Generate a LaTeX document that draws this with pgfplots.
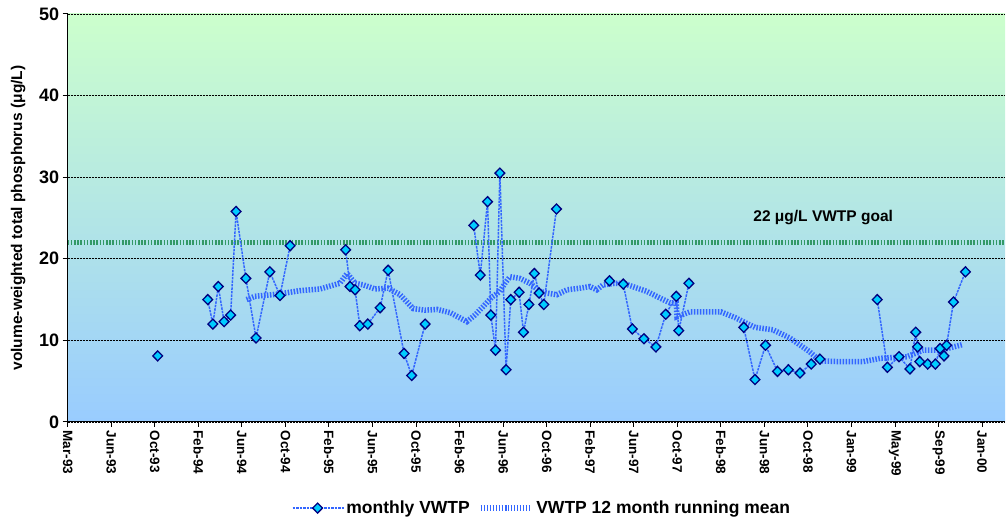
\documentclass[border=0pt]{standalone}
\usepackage{fontspec}
\setmainfont{Liberation Sans}
\usepackage{pgfplots}
\pgfplotsset{compat=1.18}

\definecolor{bgtop}{RGB}{204,255,204}
\definecolor{bgbot}{RGB}{153,204,255}
\definecolor{lineblue}{RGB}{51,102,255}
\definecolor{markfill}{RGB}{0,204,255}
\definecolor{markdraw}{RGB}{0,0,128}
\definecolor{goalgreen}{RGB}{51,153,102}

\begin{document}
\begin{tikzpicture}
\begin{axis}[
    name=ax,
    scale only axis,
    width=937.3pt, height=408pt,
    xmin=0, xmax=2583,
    ymin=0, ymax=50,
    axis lines=left,
    axis line style={-, black, line width=1pt},
    axis background/.style={shade, top color=bgtop, bottom color=bgbot},
    xtick={0,120,...,2520},
    xticklabels={Mar-93,Jun-93,Oct-93,Feb-94,Jun-94,Oct-94,Feb-95,Jun-95,Oct-95,Feb-96,Jun-96,Oct-96,Feb-97,Jun-97,Oct-97,Feb-98,Jun-98,Oct-98,Jan-99,May-99,Sep-99,Jan-00},
    ytick={0,10,...,50},
    /pgf/number format/assume math mode=true,
    tick align=outside,
    major tick length=5pt,
    tick style={black, line width=1pt},
    x tick label style={rotate=-90, anchor=west, font=\bfseries\fontsize{13.5}{14}\selectfont},
    y tick label style={font=\bfseries\fontsize{18}{19}\selectfont},
    ymajorgrids,
    grid style={black, line width=0.6pt, dash pattern=on 2pt off 1pt},
    ylabel={volume-weighted total phosphorus (μg/L)},
    ylabel style={at={(axis description cs:-0.053,0.5)}, anchor=center,
        font=\bfseries\fontsize{15.5}{16}\selectfont},
    unbounded coords=jump,
    legend style={at={(0.506,-0.211)}, anchor=center, draw=none, fill=none,
        legend columns=2, font=\bfseries\fontsize{17.5}{18}\selectfont,
        /tikz/every even column/.append style={column sep=6pt}},
    legend image code/.code={\draw[mark repeat=2,mark phase=2,#1]
        plot coordinates {(0pt,0pt) (25pt,0pt) (51pt,0pt)};},
]
% 22 ug/L goal
\addplot[forget plot, goalgreen, line width=5.5pt, dash pattern=on 1.6pt off 1.6pt]
    coordinates {(0,22) (2583,22)};

% VWTP 12 month running mean
\addplot[forget plot, lineblue, line width=5.5pt, dash pattern=on 1.5pt off 1.5pt] coordinates {
    (493,15.0) (516,15.4) (585,15.7) (640,16.1) (695,16.3) (750,17.0) (770,18.2)
    (792,17.0) (815,16.8) (847,16.3) (883,16.4) (916,15.6) (952,13.9) (985,13.7)
    (1018,13.8) (1054,13.4) (1100,12.3) (1122,13.1) (1144,14.1) (1169,15.3)
    (1191,16.0) (1205,17.0) (1219,17.8) (1246,17.6) (1274,17.0) (1302,16.0)
    (1321,15.8) (1348,15.6) (1376,16.2) (1412,16.4) (1439,16.6) (1458,16.2)
    (1475,16.8) (1508,17.0) (1531,17.0) (1563,16.5) (1596,16.0) (1632,15.2)
    (1660,14.6) (1677,14.6) (1679,12.9) (1715,13.5) (1800,13.5) (1839,12.8)
    (1866,12.2) (1894,11.6) (1943,11.3) (1990,10.3) (2045,8.6) (2073,7.5)
    (2123,7.4) (2192,7.4) (2239,7.8) (2313,8.0) (2357,8.8) (2404,8.8)
    (2432,9.1) (2467,9.5)
};

% monthly VWTP
\addplot[lineblue, line width=1.5pt, dash pattern=on 2.5pt off 1pt,
    mark=diamond*, mark size=5pt,
    mark options={solid, xscale=1.3, fill=markfill, draw=markdraw, line width=1.3pt}] coordinates {
    (248,8.1) (300,nan)
    (386,15.0) (400,12.0) (415,16.6) (431,12.3) (449,13.1) (464,25.8) (491,17.6)
    (519,10.3) (557,18.4) (585,15.5) (613,21.6) (700,nan)
    (766,21.1) (778,16.6) (792,16.2) (805,11.8) (827,12.0) (861,14.0) (883,18.6)
    (927,8.4) (948,5.7) (985,12.0) (1050,nan)
    (1119,24.1) (1137,18.0) (1157,27.0) (1166,13.1) (1179,8.8) (1191,30.5)
    (1208,6.4) (1221,15.0) (1244,15.9) (1256,11.0) (1271,14.4) (1286,18.2)
    (1299,15.8) (1312,14.4) (1347,26.1) (1420,nan)
    (1493,17.3) (1531,16.9) (1556,11.4) (1588,10.2) (1621,9.2) (1648,13.2)
    (1677,15.4) (1684,11.2) (1712,17.0) (1800,nan)
    (1863,11.6) (1894,5.2) (1923,9.4) (1956,6.2) (1986,6.4) (2018,6.0)
    (2049,7.1) (2073,7.7) (2150,nan)
    (2231,15.0) (2259,6.7) (2291,8.0) (2321,6.5) (2337,11.0) (2342,9.2)
    (2348,7.4) (2370,7.1) (2391,7.1) (2404,9.0) (2415,8.1) (2422,9.4)
    (2441,14.7) (2474,18.4)
};
\addlegendentry{monthly VWTP}
\addlegendimage{lineblue, line width=5.5pt, dash pattern=on 1.5pt off 1.5pt}
\addlegendentry{VWTP 12 month running mean}

\node[font=\bfseries\fontsize{15.5}{16}\selectfont] at (axis cs:2082,25) {22 μg/L VWTP goal};
\end{axis}
\pgfresetboundingbox
\path ([shift={(-67.7pt,-98pt)}]ax.south west) rectangle ([shift={(2pt,14pt)}]ax.north east);
\end{tikzpicture}
\end{document}
